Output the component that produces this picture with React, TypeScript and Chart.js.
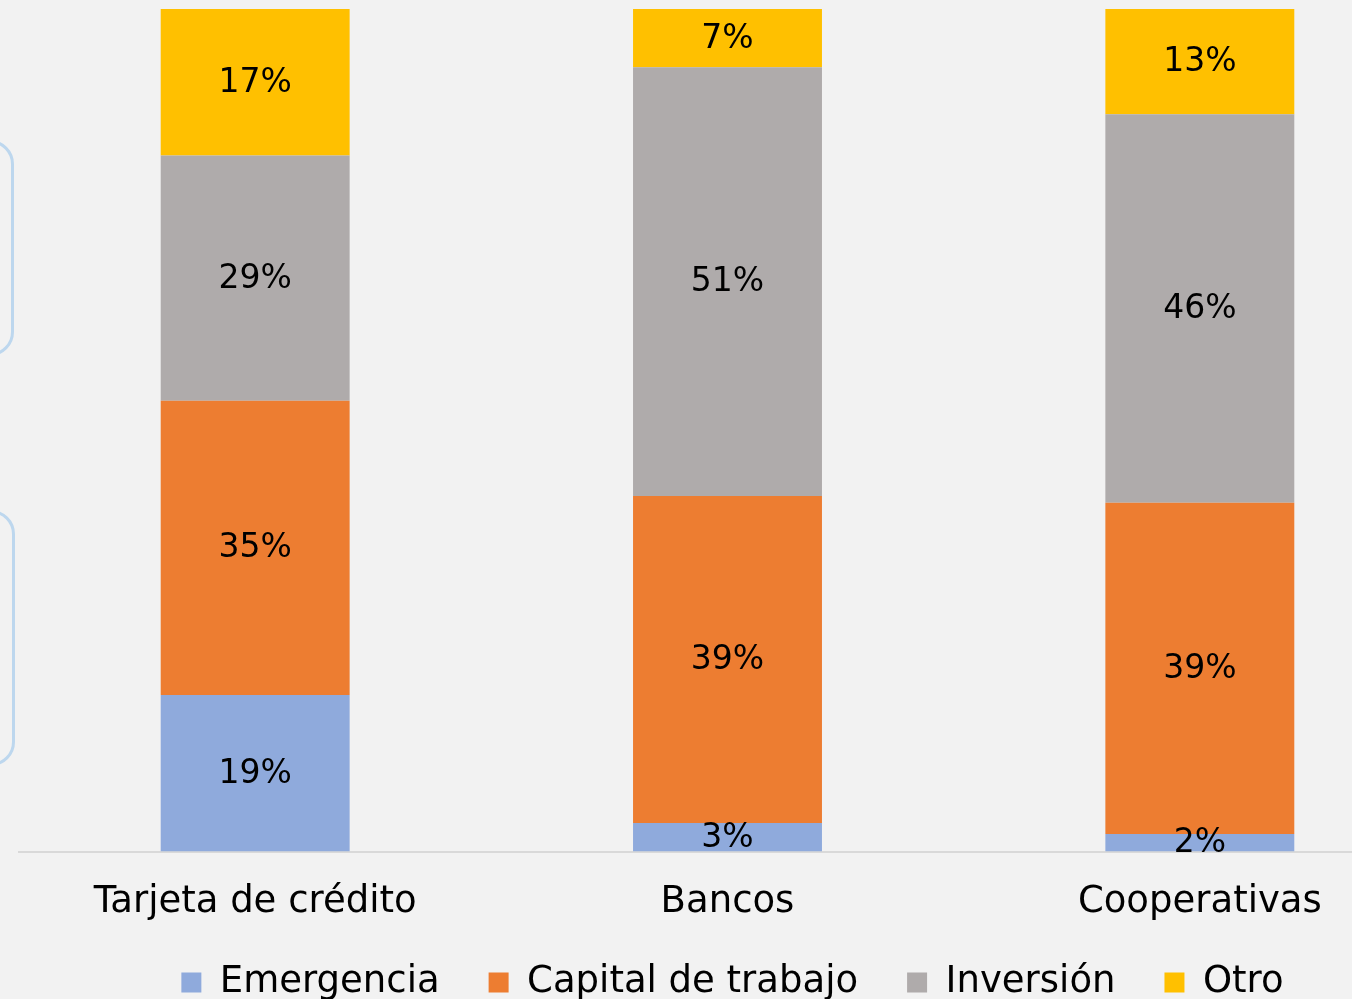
import React, { useEffect, useRef } from "react";
import { Chart, registerables } from "chart.js";

Chart.register(...registerables);

const categories = ["Tarjeta de crédito", "Bancos", "Cooperativas"];
const seriesNames = ["Emergencia", "Capital de trabajo", "Inversión", "Otro"];
const emergencia = [18.6, 3.4, 2.1];
const capital = [34.9, 38.8, 39.3];
const inversion = [29.1, 50.9, 46.1];
const otro = [17.4, 6.9, 12.5];
const colors = ["#8faadc", "#ed7d31", "#afabab", "#ffc000"];

const FONT = "'DejaVu Sans', sans-serif";
const AXIS_SHRINK = 31;

const labelPlugin = {
  id: "barLabels",
  afterLayout(chart: any) {
    const x = chart.scales.x;
    if (x) x.bottom += AXIS_SHRINK;
    const lg = chart.legend;
    if (lg) {
      lg.left += 5;
      lg.right += 5;
    }
  },
  afterDatasetsDraw(chart: any) {
    const ctx = chart.ctx;
    ctx.save();
    ctx.font = `33px ${FONT}`;
    ctx.fillStyle = "#000000";
    ctx.textAlign = "center";
    ctx.textBaseline = "middle";
    chart.data.datasets.forEach((ds: any, di: number) => {
      const meta = chart.getDatasetMeta(di);
      meta.data.forEach((bar: any, i: number) => {
        const v = ds.data[i];
        const y = (bar.y + bar.base) / 2;
        ctx.fillText(Math.round(v) + "%", bar.x, y + 1);
      });
    });
    ctx.restore();
  },
};

export default function App() {
  const ref = useRef<HTMLCanvasElement | null>(null);
  useEffect(() => {
    if (!ref.current) return;
    const data = [emergencia, capital, inversion, otro];
    const chart = new Chart(ref.current, {
      type: "bar",
      data: {
        labels: categories,
        datasets: seriesNames.map((name, k) => ({
          label: name,
          data: data[k],
          backgroundColor: colors[k],
          borderWidth: 0,
          barPercentage: 0.8,
          categoryPercentage: 0.5,
        })),
      },
      options: {
        animation: false,
        responsive: false,
        maintainAspectRatio: false,
        layout: { padding: { left: 19, right: 26, top: 9, bottom: 0 } },
        scales: {
          x: {
            stacked: true,
            grid: { display: false },
            border: { color: "#d9d9d9", width: 2 },
            ticks: { color: "#000", font: { family: FONT, size: 37 }, padding: 21 },
            afterFit(scale: any) {
              scale.height -= AXIS_SHRINK;
            },
          },
          y: {
            stacked: true,
            display: false,
            min: 0,
            max: 100,
          },
        },
        plugins: {
          tooltip: { enabled: false },
          legend: {
            position: "bottom",
            labels: {
              color: "#000",
              font: { family: FONT, size: 37 },
              boxWidth: 20,
              boxHeight: 20,
              padding: 49,
            },
          },
        },
      },
      plugins: [labelPlugin],
    });
    return () => chart.destroy();
  }, []);

  return (
    <div
      style={{
        position: "fixed",
        left: 0,
        top: 0,
        width: 1352,
        height: 999,
        overflow: "hidden",
        background: "#f2f2f2",
      }}
    >
      <div
        style={{
          position: "absolute",
          left: -200,
          top: 140,
          width: 214,
          height: 216,
          border: "3px solid #bdd7ee",
          borderRadius: 24,
          boxSizing: "border-box",
        }}
      />
      <div
        style={{
          position: "absolute",
          left: -200,
          top: 510,
          width: 215,
          height: 256,
          border: "3px solid #bdd7ee",
          borderRadius: 24,
          boxSizing: "border-box",
        }}
      />
      <canvas
        ref={ref}
        width={1462}
        height={1011}
        style={{ position: "absolute", left: 0, top: 0, width: 1462, height: 1011 }}
      />
    </div>
  );
}
